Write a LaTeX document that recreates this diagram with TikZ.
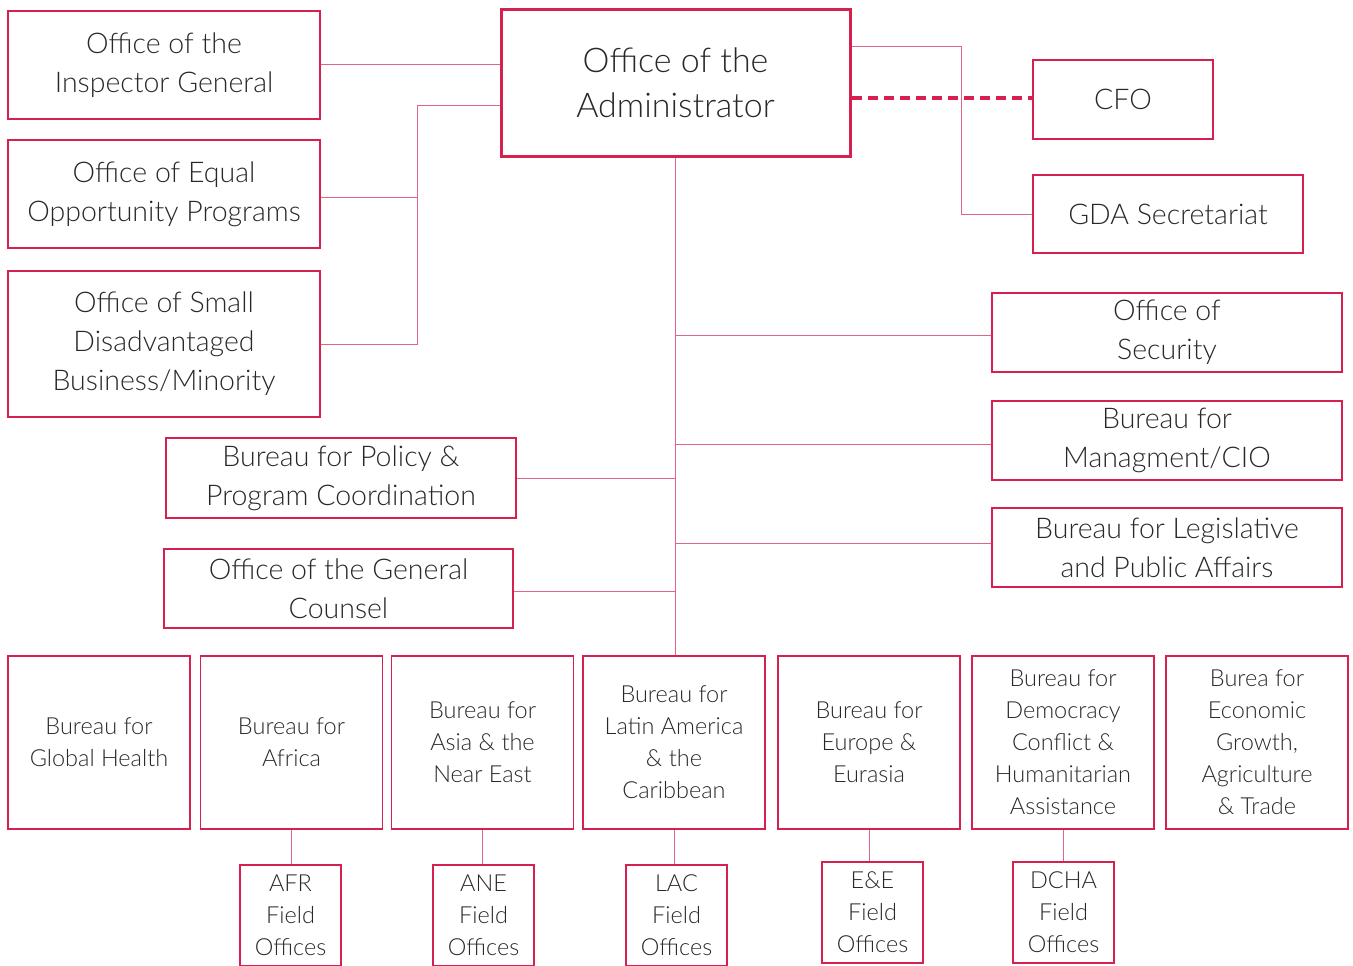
\documentclass[tikz,border=0pt]{standalone}
\usepackage{fontspec}
\setmainfont{Lato Light}
\usepackage{tikz}
\definecolor{usred}{RGB}{214,32,80}
\definecolor{uslink}{RGB}{226,100,135}
\definecolor{ustext}{RGB}{40,40,40}

\begin{document}
\begin{tikzpicture}[x=1pt,y=-1pt,
  office/.style={draw=usred,line width=1.5pt,minimum width=312pt,minimum height=108pt,
    inner sep=0pt,align=center,text=ustext,font=\fontsize{28.5}{39}\selectfont},
  bureau/.style={draw=usred,line width=1.5pt,minimum width=182pt,minimum height=173pt,
    inner sep=0pt,align=center,text=ustext,font=\fontsize{23.5}{32}\selectfont},
  field/.style={bureau,minimum width=101pt,minimum height=101pt},
  link/.style={draw=uslink,line width=1pt}]
  \useasboundingbox (0,0) rectangle (1353,966);

  % top level
  \node[office,line width=3pt,minimum width=349pt,minimum height=146pt,
    font=\fontsize{34}{45}\selectfont] (admin) at (675.5,83) {Office of the\\Administrator};
  \node[office] (inspector) at (164,65) {Office of the\\Inspector General};
  \node[office] (equal) at (164,194) {Office of Equal\\Opportunity Programs};
  \node[office,minimum height=146pt] (smallbiz) at (164,344) {Office of Small\\Disadvantaged\\Business/Minority};
  \node[office,minimum width=180pt,minimum height=79pt] (cfo) at (1123,99.5) {CFO};
  \node[office,minimum width=270pt,minimum height=78pt] (gda) at (1168,214) {GDA Secretariat};

  % staff offices along the trunk
  \node[office,minimum width=350pt,minimum height=79pt] (security) at (1167,332.5) {Office of\\Security};
  \node[office,minimum width=350pt,minimum height=79pt] (mgmt) at (1167,440.5) {Bureau for\\Managment/CIO};
  \node[office,minimum width=350pt,minimum height=79pt] (legis) at (1167,547.5) {Bureau for Legislative\\and Public Affairs};
  \node[office,minimum width=350pt,minimum height=80pt] (policy) at (341,478) {Bureau for Policy \&\\Program Coordination};
  \node[office,minimum width=349pt,minimum height=79pt] (counsel) at (338.5,588.5) {Office of the General\\Counsel};

  % regional and pillar bureaus
  \node[bureau] (health) at (99,742.5) {Bureau for\\Global Health};
  \node[bureau] (africa) at (291.5,742.5) {Bureau for\\Africa};
  \node[bureau] (asia) at (482.5,742.5) {Bureau for\\Asia \& the\\Near East};
  \node[bureau] (latin) at (674,742.5) {Bureau for\\Latin America\\\& the\\Caribbean};
  \node[bureau] (europe) at (869,742.5) {Bureau for\\Europe \&\\Eurasia};
  \node[bureau] (dcha) at (1063,742.5) {Bureau for\\Democracy\\Conflict \&\\Humanitarian\\Assistance};
  \node[bureau] (egat) at (1257,742.5) {Burea for\\Economic\\Growth,\\Agriculture\\\& Trade};

  % field offices
  \node[field] (afrfield) at (290.5,915.5) {AFR\\Field\\Offices};
  \node[field] (anefield) at (483.5,915.5) {ANE\\Field\\Offices};
  \node[field] (lacfield) at (676.5,915.5) {LAC\\Field\\Offices};
  \node[field] (eefield) at (872.5,912.5) {E\&E\\Field\\Offices};
  \node[field] (dchafield) at (1063.5,912.5) {DCHA\\Field\\Offices};

  % connectors
  \coordinate (lbus) at (417,106);
  \coordinate (rbus) at (961,47);
  \draw[link] (inspector.east) -- (inspector.east -| admin.west);
  \draw[link] (admin.west |- lbus) -- (lbus) -- (lbus |- smallbiz.east) -- (smallbiz.east);
  \draw[link] ([yshift=-3pt]equal.east) -- ([yshift=-3pt]equal.east -| lbus);
  \draw[link] (admin.east |- rbus) -- (rbus) -- (rbus |- gda.west) -- (gda.west);
  \draw[usred,line width=3.5pt,dash pattern=on 10pt off 6pt] ([yshift=1.5pt]admin.east |- cfo.west) -- ([yshift=1.5pt]cfo.west);

  \draw[link] (admin.south) -- (admin.south |- latin.north);
  \draw[link] ([yshift=-2.5pt]security.west) -- ([yshift=-2.5pt]security.west -| admin.south);
  \draw[link] ([yshift=-3.5pt]mgmt.west) -- ([yshift=-3.5pt]mgmt.west -| admin.south);
  \draw[link] ([yshift=4.5pt]legis.west) -- ([yshift=4.5pt]legis.west -| admin.south);
  \draw[link] (policy.east) -- (policy.east -| admin.south);
  \draw[link] ([yshift=-2.5pt]counsel.east) -- ([yshift=-2.5pt]counsel.east -| admin.south);

  \draw[link] (africa.south) -- (africa.south |- afrfield.north);
  \draw[link] (asia.south) -- (asia.south |- anefield.north);
  \draw[link] (latin.south) -- (latin.south |- lacfield.north);
  \draw[link] (europe.south) -- (europe.south |- eefield.north);
  \draw[link] (dcha.south) -- (dcha.south |- dchafield.north);
\end{tikzpicture}
\end{document}
